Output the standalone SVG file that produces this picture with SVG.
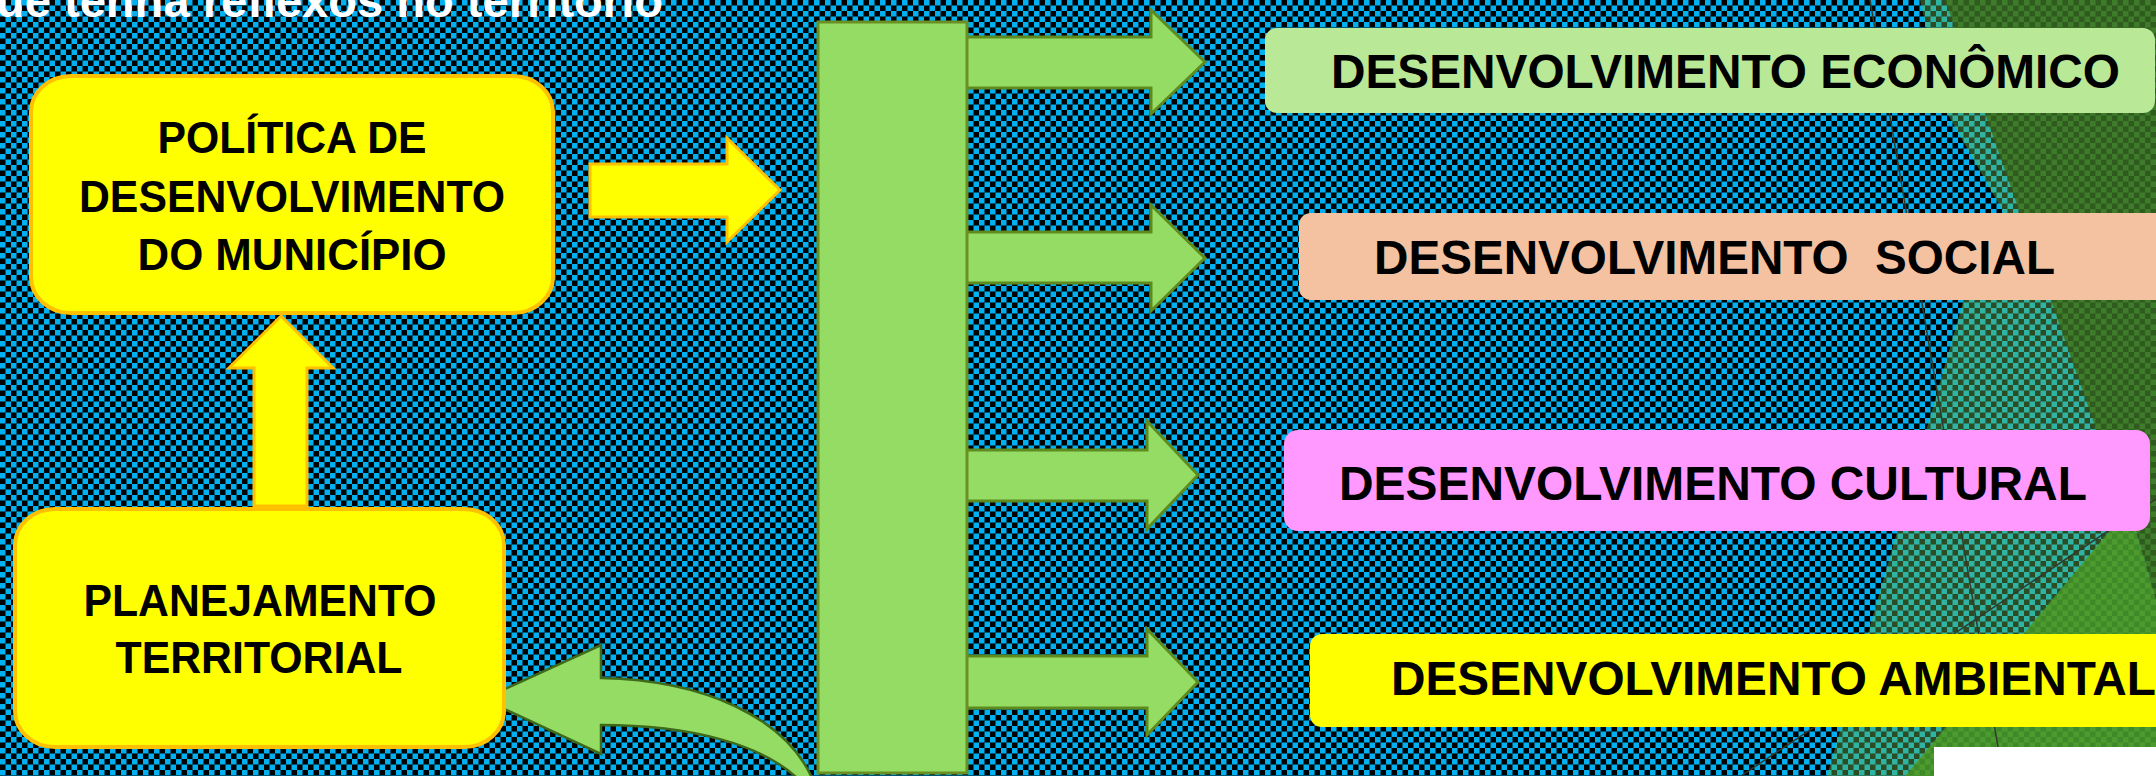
<svg xmlns="http://www.w3.org/2000/svg" width="2156" height="776" viewBox="0 0 2156 776">
  <defs>
    <pattern id="pBlue" width="11" height="11" patternUnits="userSpaceOnUse">
      <rect width="11" height="11" fill="#000000"/>
      <rect width="5.5" height="5.5" fill="#00b0f0"/>
      <rect x="5.5" y="5.5" width="5.5" height="5.5" fill="#00b0f0"/>
    </pattern>
    <pattern id="pTeal" width="11" height="11" patternUnits="userSpaceOnUse">
      <rect width="11" height="11" fill="#2c4c25"/>
      <rect width="5.5" height="5.5" fill="#2fb3a2"/>
      <rect x="5.5" y="5.5" width="5.5" height="5.5" fill="#2fb3a2"/>
    </pattern>
    <pattern id="pGreen" width="11" height="11" patternUnits="userSpaceOnUse">
      <rect width="11" height="11" fill="#2f5c1e"/>
      <rect width="5.5" height="5.5" fill="#3e7c2b"/>
      <rect x="5.5" y="5.5" width="5.5" height="5.5" fill="#3e7c2b"/>
    </pattern>
    <pattern id="pLight" width="11" height="11" patternUnits="userSpaceOnUse">
      <rect width="11" height="11" fill="#3f8a28"/>
      <rect width="5.5" height="5.5" fill="#4d9b2e"/>
      <rect x="5.5" y="5.5" width="5.5" height="5.5" fill="#4d9b2e"/>
    </pattern>
  </defs>
  <style>
    .ybox { fill: #ffff00; stroke: #ffc000; stroke-width: 4; }
    .yarrow { fill: #ffff00; stroke: #ffc000; stroke-width: 3; stroke-linejoin: miter; }
    .garrow { fill: #94dc64; stroke: #5f8a1e; stroke-width: 3; stroke-linejoin: miter; }
    .ltxt { font-family: "Liberation Sans", Arial, sans-serif; font-weight: bold; font-size: 45px; fill: #000; text-anchor: middle; }
    .rtxt { font-family: "Liberation Sans", Arial, sans-serif; font-weight: bold; font-size: 47.5px; fill: #000; }
    .bgline { stroke: #333a2a; stroke-width: 1.5; fill: none; }
  </style>

  <!-- background -->
  <g id="background">
    <rect x="0" y="0" width="2156" height="776" fill="url(#pBlue)"/>
    <path d="M1920,0 L1947,113 L2005,215 L1963,302 L1827,776 L2156,776 L2156,0 Z" fill="url(#pTeal)"/>
    <path d="M1945,0 L2156,0 L2156,600 L2135,528 L2112,528 L2100,440 Z" fill="url(#pGreen)"/>
    <path d="M2112,528 L2135,528 L2156,600 L2156,776 L1905,776 Z" fill="url(#pLight)"/>
    <line class="bgline" x1="1870" y1="0" x2="2003" y2="776"/>
    <line class="bgline" x1="2156" y1="499" x2="1741" y2="776"/>
    <rect x="1934" y="747" width="222" height="29" fill="#ffffff"/>
    <text x="-4" y="17" font-family="'Liberation Sans', Arial, sans-serif" font-weight="bold" font-size="46" fill="#ffffff" textLength="667" lengthAdjust="spacingAndGlyphs">ue tenha reflexos no território</text>
  </g>

  <!-- connectors -->
  <g id="connectors">
    <path class="yarrow" d="M590,164 L727,164 L727,138 L780,190 L727,242 L727,217 L590,217 Z"/>
    <path class="yarrow" d="M254,506 L254,368 L229,368 L281,316 L333,368 L307,368 L307,506 Z"/>
    <path class="garrow" d="M966,37 L1151,37 L1151,10 L1205,62 L1151,114 L1151,88 L966,88 Z"/>
    <path class="garrow" d="M966,232 L1151,232 L1151,205 L1205,258 L1151,311 L1151,283 L966,283 Z"/>
    <path class="garrow" d="M966,450 L1147,450 L1147,421 L1198,475 L1147,529 L1147,501 L966,501 Z"/>
    <path class="garrow" d="M966,656 L1147,656 L1147,629 L1198,682 L1147,735 L1147,708 L966,708 Z"/>
    <path d="M483,699 L601,645 L601,678 C705,680 785,718 812,778 L797,778 C762,745 692,725 601,725 L601,754 Z" fill="#94dc64" stroke="#3f6a1a" stroke-width="2.5" stroke-linejoin="miter"/>
  </g>

  <!-- central bar -->
  <g id="hub">
    <rect x="818" y="22" width="149" height="751" fill="#94dc64" stroke="#6a8f22" stroke-width="3"/>
  </g>

  <g id="politica">
    <rect class="ybox" x="31" y="76" width="522" height="237" rx="40" ry="36"/>
    <text class="ltxt" x="292" y="153" textLength="269" lengthAdjust="spacingAndGlyphs">POLÍTICA DE</text>
    <text class="ltxt" x="292" y="212" textLength="426" lengthAdjust="spacingAndGlyphs">DESENVOLVIMENTO</text>
    <text class="ltxt" x="292" y="270" textLength="309" lengthAdjust="spacingAndGlyphs">DO MUNICÍPIO</text>
  </g>

  <g id="planejamento">
    <rect class="ybox" x="15" y="509" width="489" height="238" rx="40" ry="36"/>
    <text class="ltxt" x="260" y="616" textLength="353" lengthAdjust="spacingAndGlyphs">PLANEJAMENTO</text>
    <text class="ltxt" x="259" y="673" textLength="287" lengthAdjust="spacingAndGlyphs">TERRITORIAL</text>
  </g>

  <g id="economico">
    <rect x="1265" y="28" width="890" height="85" rx="12" fill="#b9e897"/>
    <text class="rtxt" x="1331" y="88" textLength="789" lengthAdjust="spacingAndGlyphs">DESENVOLVIMENTO ECONÔMICO</text>
  </g>

  <g id="social">
    <rect x="1299" y="213" width="870" height="87" rx="12" fill="#f4c2a1"/>
    <text class="rtxt" x="1374" y="274" textLength="681" lengthAdjust="spacingAndGlyphs" xml:space="preserve">DESENVOLVIMENTO  SOCIAL</text>
  </g>

  <g id="cultural">
    <rect x="1284" y="430" width="866" height="101" rx="14" fill="#ff99ff"/>
    <text class="rtxt" x="1339" y="500" textLength="748" lengthAdjust="spacingAndGlyphs">DESENVOLVIMENTO CULTURAL</text>
  </g>

  <g id="ambiental">
    <rect x="1310" y="634" width="860" height="93" rx="12" fill="#ffff00"/>
    <text class="rtxt" x="1391" y="695" textLength="765" lengthAdjust="spacingAndGlyphs">DESENVOLVIMENTO AMBIENTAL</text>
  </g>
</svg>
